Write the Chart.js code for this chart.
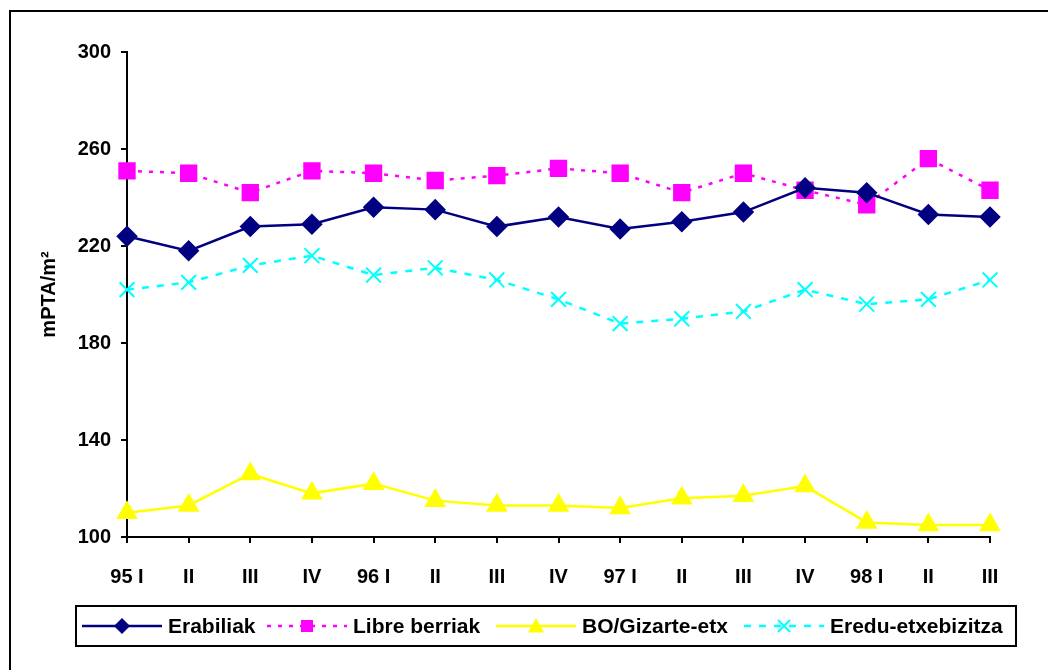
<!DOCTYPE html>
<html>
<head>
<meta charset="utf-8">
<script src="https://cdn.jsdelivr.net/npm/chart.js@4.4.0/dist/chart.umd.min.js"></script>
<style>
  html, body { margin: 0; padding: 0; background: #fff; }
  canvas { display: block; }
</style>
</head>
<body>
<canvas id="grafikoa" width="1048" height="670"></canvas>
<script>
// hiruhilekoak
const hiruhilekoak = ['95 I', 'II', 'III', 'IV', '96 I', 'II', 'III', 'IV', '97 I', 'II', 'III', 'IV', '98 I', 'II', 'III'];
// mPTA/m2
const erabiliak = [224, 218, 228, 229, 236, 235, 228, 232, 227, 230, 234, 244, 242, 233, 232];
const libreBerriak = [251, 250, 242, 251, 250, 247, 249, 252, 250, 242, 250, 243, 237, 256, 243];
const boGizarte = [110, 113, 126, 118, 122, 115, 113, 113, 112, 116, 117, 121, 106, 105, 105];
const eredu = [202, 205, 212, 216, 208, 211, 206, 198, 188, 190, 193, 202, 196, 198, 206];
const yTicks = [100, 140, 180, 220, 260, 300];

const letra = "'Liberation Sans', Arial, sans-serif";

function marka(ctx, mota, x, y, r, kolorea) {
    ctx.save();
    ctx.fillStyle = kolorea;
    ctx.strokeStyle = kolorea;
    ctx.setLineDash([]);
    ctx.beginPath();
    if (mota === 'rectRot') {
        ctx.moveTo(x, y - r); ctx.lineTo(x + r, y); ctx.lineTo(x, y + r); ctx.lineTo(x - r, y);
        ctx.closePath(); ctx.fill();
    } else if (mota === 'rect') {
        ctx.rect(x - r, y - r, 2 * r, 2 * r); ctx.fill();
    } else if (mota === 'triangle') {
        ctx.moveTo(x, y - r); ctx.lineTo(x + r, y + r * 0.8); ctx.lineTo(x - r, y + r * 0.8);
        ctx.closePath(); ctx.fill();
    } else {
        ctx.lineWidth = 2;
        ctx.moveTo(x - r, y - r); ctx.lineTo(x + r, y + r);
        ctx.moveTo(x + r, y - r); ctx.lineTo(x - r, y + r);
        ctx.stroke();
    }
    ctx.restore();
}

const legendaPlugin = {
    id: 'legenda',
    beforeDraw(chart) {
        const ctx = chart.ctx;
        ctx.save();
        ctx.fillStyle = '#fff';
        ctx.fillRect(0, 0, chart.width, chart.height);
        ctx.strokeStyle = '#000';
        ctx.lineWidth = 2;
        ctx.strokeRect(10, 11, 1100, 700);
        ctx.restore();
    },
    afterDraw(chart) {
        const ctx = chart.ctx;
        ctx.save();
        ctx.strokeStyle = '#000';
        ctx.lineWidth = 2;
        ctx.strokeRect(76, 606, 940, 40);
        const hasiera = [82, 267, 496, 744];
        const y = 626;
        ctx.font = 'bold 21px ' + letra;
        ctx.textBaseline = 'middle';
        ctx.fillStyle = '#000';
        chart.data.datasets.forEach((ds, i) => {
            const x0 = hasiera[i];
            ctx.save();
            ctx.strokeStyle = ds.borderColor;
            ctx.lineWidth = ds.borderWidth;
            ctx.setLineDash(ds.borderDash || []);
            ctx.beginPath();
            ctx.moveTo(x0, y);
            ctx.lineTo(x0 + 80, y);
            ctx.stroke();
            ctx.restore();
            marka(ctx, ds.pointStyle, x0 + 40, y, ds.legendR, ds.borderColor);
            ctx.fillText(ds.label, x0 + 86, y + 1);
        });
        ctx.restore();
    }
};

new Chart(document.getElementById('grafikoa'), {
    type: 'line',
    data: {
        labels: hiruhilekoak,
        datasets: [
            {
                label: 'Erabiliak', data: erabiliak,
                borderColor: '#000080', backgroundColor: '#000080',
                borderWidth: 2.5, pointStyle: 'rectRot', pointRadius: 9, legendR: 8
            },
            {
                label: 'Libre berriak', data: libreBerriak,
                borderColor: '#ff00ff', backgroundColor: '#ff00ff',
                borderWidth: 2.5, borderDash: [4, 7], pointStyle: 'rect', pointRadius: 10.5, legendR: 6
            },
            {
                label: 'BO/Gizarte-etx', data: boGizarte,
                borderColor: '#ffff00', backgroundColor: '#ffff00',
                borderWidth: 2.5, pointStyle: 'triangle', pointRadius: 10, legendR: 8
            },
            {
                label: 'Eredu-etxebizitza', data: eredu,
                borderColor: '#00ffff', backgroundColor: '#00ffff',
                borderWidth: 2.5, borderDash: [7, 8], pointStyle: 'crossRot', pointRadius: 10.5,
                pointBorderWidth: 2, legendR: 6
            }
        ]
    },
    options: {
        responsive: false,
        animation: false,
        layout: { padding: { left: 0, top: 52, right: 58, bottom: 83 } },
        elements: { line: { tension: 0 } },
        plugins: {
            legend: { display: false },
            tooltip: { enabled: false }
        },
        scales: {
            x: {
                offset: false,
                grid: { display: true, drawOnChartArea: false, drawTicks: true, tickLength: 6, color: '#000', lineWidth: 2, offset: false },
                border: { display: true, color: '#000', width: 2 },
                ticks: { color: '#000', font: { family: letra, size: 20, weight: 'bold' }, padding: 22, maxRotation: 0, autoSkip: false },
                afterFit(scale) { scale.height = 50; }
            },
            y: {
                min: 100,
                max: 300,
                afterBuildTicks(scale) { scale.ticks = yTicks.map(v => ({ value: v })); },
                grid: { display: true, drawOnChartArea: false, drawTicks: true, tickLength: 6, color: '#000', lineWidth: 2 },
                border: { display: true, color: '#000', width: 2 },
                ticks: { color: '#000', font: { family: letra, size: 20, weight: 'bold' }, padding: 10 },
                title: {
                    display: true, text: 'mPTA/m²', color: '#000',
                    font: { family: letra, size: 20, weight: 'bold' },
                    padding: { top: 37, bottom: 0 }
                },
                afterFit(scale) { scale.width = 127; }
            }
        }
    },
    plugins: [legendaPlugin]
});
</script>
</body>
</html>
